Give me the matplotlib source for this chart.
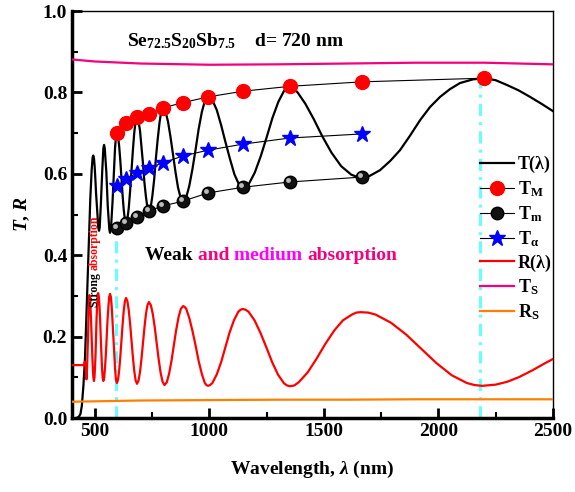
import numpy as np
import matplotlib
matplotlib.use('Agg')
import matplotlib.pyplot as plt
from matplotlib.ticker import MultipleLocator, FormatStrFormatter
from matplotlib.transforms import offset_copy

plt.rcParams['font.family'] = ['Liberation Serif', 'DejaVu Serif']
plt.rcParams['font.weight'] = 'bold'
plt.rcParams['axes.labelweight'] = 'bold'
plt.rcParams['mathtext.fontset'] = 'custom'
plt.rcParams['mathtext.rm'] = 'Liberation Serif:bold'
plt.rcParams['mathtext.it'] = 'Liberation Serif:italic:bold'
plt.rcParams['mathtext.bf'] = 'Liberation Serif:bold'

# -------------------------------------------------------------------------
# DATA
# -------------------------------------------------------------------------

# transmission spectrum T(lambda)
wl_T = [420, 430, 437, 443, 450, 457, 463, 468, 474, 480, 486, 490, 493,
        496, 499, 502, 505, 509, 512, 515, 518,
        521, 523, 526, 529, 532, 535, 537, 540,
        543, 546, 550, 553, 556, 560, 563, 566,
        570, 573, 577, 581, 585, 588, 592, 596,
        601, 606, 611, 616, 621, 626, 631, 636,
        642, 648, 654, 660, 666, 672, 678, 684,
        690, 697, 703, 710, 716, 723, 729, 736,
        744, 751, 759, 766, 774, 782, 789, 797,
        802, 808, 819, 830, 841, 852, 863, 874, 880, 885,
        892, 899, 912, 926, 940, 953, 967, 980, 987, 994,
        1004, 1013, 1032, 1051, 1070, 1090, 1109, 1128, 1137, 1147,
        1160, 1173, 1198, 1224, 1250, 1275, 1301, 1326, 1339, 1352,
        1368, 1385, 1419, 1455, 1493, 1533, 1575, 1619, 1642, 1666,
        1700, 1745, 1790, 1832, 1875, 1920, 1963, 2007, 2050, 2094, 2150, 2199,
        2250, 2300, 2350, 2400, 2450, 2500]
T = [0.0, 0.003, 0.01, 0.03, 0.08, 0.15, 0.25, 0.33, 0.44, 0.54, 0.61, 0.64, 0.645,
     0.638, 0.618, 0.588, 0.553, 0.517, 0.487, 0.467, 0.46,
     0.468, 0.491, 0.525, 0.566, 0.606, 0.640, 0.663, 0.671,
     0.663, 0.639, 0.604, 0.563, 0.522, 0.487, 0.463, 0.455,
     0.464, 0.491, 0.531, 0.578, 0.624, 0.664, 0.691, 0.700,
     0.692, 0.668, 0.632, 0.590, 0.547, 0.511, 0.487, 0.479,
     0.489, 0.517, 0.560, 0.610, 0.659, 0.702, 0.730, 0.740,
     0.731, 0.706, 0.669, 0.625, 0.580, 0.543, 0.518, 0.509,
     0.519, 0.546, 0.587, 0.636, 0.684, 0.725, 0.752, 0.762,
     0.760, 0.753, 0.729, 0.691, 0.648, 0.604, 0.566, 0.542, 0.535, 0.533,
     0.535, 0.543, 0.570, 0.612, 0.661, 0.710, 0.752, 0.779, 0.787, 0.789,
     0.787, 0.781, 0.757, 0.720, 0.678, 0.636, 0.599, 0.575, 0.569, 0.567,
     0.569, 0.576, 0.603, 0.643, 0.690, 0.737, 0.777, 0.804, 0.811, 0.813,
     0.809, 0.800, 0.772, 0.735, 0.692, 0.652, 0.619, 0.598, 0.593, 0.592,
     0.595, 0.609, 0.632, 0.658, 0.693, 0.732, 0.764, 0.789, 0.808, 0.823, 0.832, 0.835,
     0.830, 0.818, 0.805, 0.789, 0.772, 0.754]

# reflection spectrum R(lambda)
wl_R = [400, 452, 456, 459, 463, 466, 470, 473, 476,
        478.5, 481, 483.5, 486, 488.5, 491, 493.5, 496,
        498, 500.5, 503, 505, 507, 509.5, 512, 514,
        517, 520, 523, 525.5, 528.5, 531, 534, 537,
        540.6, 544, 548, 551.5, 555, 559, 562.4, 566,
        570, 573.5, 577, 581, 585, 588.5, 592, 596,
        601, 606, 611, 616, 621, 626, 631, 636,
        642, 648, 654, 660, 666, 672, 678, 684,
        690.5, 697, 703.5, 710, 716.5, 723, 729.5, 736,
        744.5, 753, 761.5, 770, 778.5, 787, 795.5, 804,
        814, 824, 834.5, 844.5, 854.5, 865, 875, 885,
        892, 899, 912, 926, 940, 953, 967, 980, 987, 994,
        1003, 1013, 1032, 1051, 1070, 1088, 1107, 1126, 1136, 1145,
        1158, 1171, 1197, 1223, 1249, 1274, 1300, 1326, 1339, 1352,
        1371, 1390, 1429, 1467, 1506, 1545, 1583, 1622, 1641, 1660,
        1693, 1726, 1793, 1859, 1925, 1991, 2058, 2124, 2157, 2190,
        2250, 2300, 2350, 2413, 2460, 2500]
R = [0.13, 0.13, 0.138, 0.13, 0.095, 0.125, 0.20, 0.272, 0.302,
     0.294, 0.271, 0.237, 0.196, 0.156, 0.122, 0.099, 0.091,
     0.099, 0.123, 0.158, 0.199, 0.240, 0.275, 0.299, 0.307,
     0.299, 0.275, 0.240, 0.199, 0.158, 0.123, 0.099, 0.091,
     0.099, 0.122, 0.157, 0.198, 0.239, 0.274, 0.297, 0.305,
     0.297, 0.273, 0.237, 0.196, 0.154, 0.118, 0.094, 0.086,
     0.094, 0.117, 0.151, 0.190, 0.230, 0.264, 0.287, 0.295,
     0.287, 0.264, 0.230, 0.190, 0.149, 0.115, 0.092, 0.084,
     0.092, 0.113, 0.146, 0.185, 0.223, 0.256, 0.277, 0.285,
     0.277, 0.255, 0.222, 0.183, 0.144, 0.111, 0.089, 0.081,
     0.088, 0.109, 0.141, 0.178, 0.215, 0.247, 0.268, 0.275,
     0.273, 0.268, 0.246, 0.214, 0.177, 0.140, 0.108, 0.086, 0.081, 0.079,
     0.081, 0.086, 0.107, 0.137, 0.174, 0.210, 0.240, 0.261, 0.266, 0.268,
     0.266, 0.261, 0.240, 0.209, 0.173, 0.137, 0.106, 0.085, 0.080, 0.078,
     0.080, 0.088, 0.112, 0.145, 0.182, 0.215, 0.240, 0.254, 0.259, 0.260,
     0.259, 0.254, 0.234, 0.205, 0.170, 0.135, 0.105, 0.086, 0.081, 0.079,
     0.082, 0.089, 0.10, 0.118, 0.133, 0.145]

# substrate transmission / reflection
wl_S = [400, 500, 700, 1000, 1300, 1600, 1900, 2200, 2500]
TS = [0.881, 0.876, 0.871, 0.868, 0.869, 0.871, 0.873, 0.873, 0.869]
RS = [0.040, 0.041, 0.043, 0.044, 0.045, 0.045, 0.046, 0.046, 0.046]

# envelopes at the extrema
wl_env = [596, 636, 684, 736, 797, 885, 994, 1147, 1352, 1666]
wl_TM = wl_env + [2199]
TM = [0.700, 0.725, 0.740, 0.746, 0.762, 0.775, 0.789, 0.803, 0.815, 0.826, 0.835]
Tm = [0.467, 0.479, 0.494, 0.509, 0.521, 0.533, 0.553, 0.567, 0.580, 0.592]
Ta = [0.570, 0.587, 0.602, 0.614, 0.627, 0.644, 0.658, 0.673, 0.688, 0.698]

# cyan guide lines (wavelength, top value)
guide_wl = [590, 2182]
guide_top = [0.47, 0.835]

pink = '#f5007f'
cyan = '#66ffff'

# -------------------------------------------------------------------------
# PLOT
# -------------------------------------------------------------------------

fig = plt.figure(figsize=(5.75, 4.92), dpi=100)
ax = fig.add_axes([0.1252, 0.1504, 0.8365, 0.8272])

for w, top in zip(guide_wl, guide_top):
    ax.plot([w, w], [0, top], color=cyan, lw=2.2, ls=(0, (4, 2, 1, 2)), zorder=1)

ax.plot(wl_T, T, color='k', lw=1.6, label='T(λ)', zorder=3)
ax.plot(wl_TM, TM, color='k', lw=0.8, marker='o', ms=10, mfc='red', mec='red',
        label=r'T$_{\mathrm{M}}$', zorder=4)
ax.plot(wl_env, Tm, color='k', lw=0.8, marker='o', ms=9, mfc='#111111', mec='k',
        label=r'T$_{\mathrm{m}}$', zorder=4)
# little highlight on the black balls
hl = offset_copy(ax.transData, fig=fig, x=-1.5, y=1.5, units='points')
ax.plot(wl_env, Tm, ls='none', marker='o', ms=3.5, mfc='#bbbbbb', mec='none',
        transform=hl, zorder=5)
ax.plot(wl_env, Ta, color='k', lw=0.8, marker='*', ms=12, mfc='blue', mec='blue',
        label=r'T$_{\mathrm{\alpha}}$', zorder=4)
ax.plot(wl_R, R, color='red', lw=1.6, label='R(λ)', zorder=3)
ax.plot(wl_S, TS, color=pink, lw=1.6, label=r'T$_{\mathrm{S}}$', zorder=3)
ax.plot(wl_S, RS, color='#ff8000', lw=1.6, label=r'R$_{\mathrm{S}}$', zorder=3)

ax.set_xlim(400, 2500)
ax.set_ylim(0, 1.0)
ax.xaxis.set_major_locator(MultipleLocator(500))
ax.xaxis.set_minor_locator(MultipleLocator(250))
ax.yaxis.set_major_locator(MultipleLocator(0.2))
ax.yaxis.set_minor_locator(MultipleLocator(0.1))
ax.yaxis.set_major_formatter(FormatStrFormatter('%.1f'))
ax.tick_params(which='both', direction='in', top=False, right=False, labelsize=14)
ax.tick_params(which='major', length=7, width=2)
ax.tick_params(which='minor', length=4, width=1.5)
for s in ['left', 'bottom']:
    ax.spines[s].set_linewidth(2.5)
for s in ['top', 'right']:
    ax.spines[s].set_linewidth(1.0)

ax.set_xlabel(r'Wavelength, $\lambda$ (nm)', fontsize=14, labelpad=14)
ax.set_ylabel(r'$T$, $R$', fontsize=14, labelpad=8)

# title inside the frame
ax.text(640, 0.925, r'Se$_{\mathrm{72.5}}$S$_{\mathrm{20}}$Sb$_{\mathrm{7.5}}$    d= 720 nm',
        fontsize=14, ha='left', va='center')

# "Weak and medium absorption" in several colours
t1 = ax.text(719, 0.40, 'Weak ', fontsize=14, color='k', ha='left', va='center')
t2 = ax.annotate('and ', xy=(1, 0), xycoords=t1, fontsize=14, color=pink, va='bottom')
t3 = ax.annotate('medium ', xy=(1, 0), xycoords=t2, fontsize=14, color='#ff00ff', va='bottom')
ax.annotate('absorption', xy=(1, 0), xycoords=t3, fontsize=14, color=pink, va='bottom')

# vertical "Strong absorption"
s1 = ax.text(500, 0.273, 'Strong ', fontsize=8.5, rotation=90, color='k',
             ha='center', va='bottom')
ax.annotate('absorption', xy=(0.5, 1), xycoords=s1, fontsize=8.5, rotation=90,
            color='red', ha='center', va='bottom')

ax.legend(loc='center left', bbox_to_anchor=(0.848, 0.44), frameon=False,
          fontsize=13, handlelength=1.9, handletextpad=0.2, labelspacing=0.3,
          borderpad=0, borderaxespad=0)

fig.savefig('out.png', dpi=100)
